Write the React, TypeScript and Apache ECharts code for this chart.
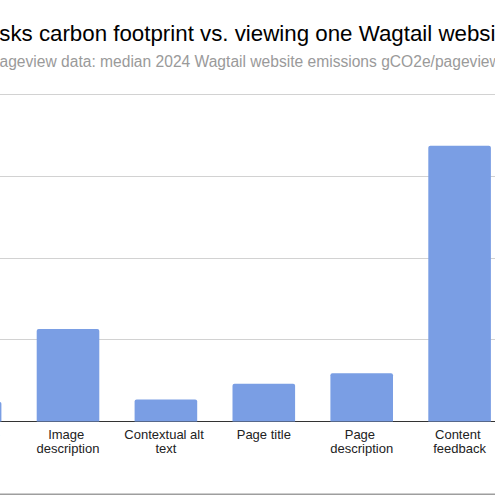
import React, { useEffect, useRef } from "react";
import * as echarts from "echarts";

const categories = [
  "Image title",
  "Image description",
  "Contextual alt text",
  "Page title",
  "Page description",
  "Content feedback",
];
const values = [0.24, 1.13, 0.27, 0.46, 0.59, 3.37];
const titleText = "AI tasks carbon footprint vs. viewing one Wagtail website";
const subtitleText = "Pageview data: median 2024 Wagtail website emissions gCO2e/pageview";

const OFFSET = 130;
const W = 640;
const H = 495;
const FONT = "Arial, 'Liberation Sans', sans-serif";

export default function App() {
  const ref = useRef<HTMLDivElement>(null);
  useEffect(() => {
    if (!ref.current) return;
    const chart = echarts.init(ref.current, null, { renderer: "svg" });
    chart.setOption({
      animation: false,
      title: [
        {
          text: titleText,
          left: 83.4,
          top: 22.5,
          padding: 0,
          textStyle: { fontFamily: FONT, fontSize: 22.3, fontWeight: "normal", color: "#000" },
        },
        {
          text: subtitleText,
          left: 119.1,
          top: 53,
          padding: 0,
          textStyle: { fontFamily: FONT, fontSize: 15.6, fontWeight: "normal", color: "#9a9a9a" },
        },
      ],
      grid: { left: 51.15, right: 1.45, top: 94.3, bottom: 73.5, containLabel: false },
      xAxis: {
        type: "category",
        data: categories,
        axisLine: { lineStyle: { color: "#333", width: 1 } },
        axisTick: { show: false },
        axisLabel: {
          interval: 0,
          margin: 6,
          width: 90,
          overflow: "break",
          lineHeight: 14,
          fontSize: 13,
          fontFamily: FONT,
          color: "#222",
        },
      },
      yAxis: {
        type: "value",
        min: 0,
        max: 4,
        interval: 1,
        axisLabel: { show: false },
        axisLine: { show: false },
        axisTick: { show: false },
        splitLine: { lineStyle: { color: "#d2d2d2", width: 1 } },
      },
      series: [
        {
          type: "bar",
          data: values,
          barWidth: 62.6,
          itemStyle: { color: "#7a9ee4", borderRadius: [2, 2, 0, 0] },
        },
      ],
      graphic: [
        {
          type: "rect",
          shape: { x: 0, y: 493.4, width: W, height: 1.6 },
          style: { fill: "#9e9e9e" },
          silent: true,
        },
      ],
    });
    return () => chart.dispose();
  }, []);
  return (
    <div style={{ position: "fixed", left: 0, top: 0, width: 495, height: 495, overflow: "hidden", background: "#fff" }}>
      <div ref={ref} style={{ position: "absolute", left: -OFFSET, top: 0, width: W, height: H }} />
    </div>
  );
}
